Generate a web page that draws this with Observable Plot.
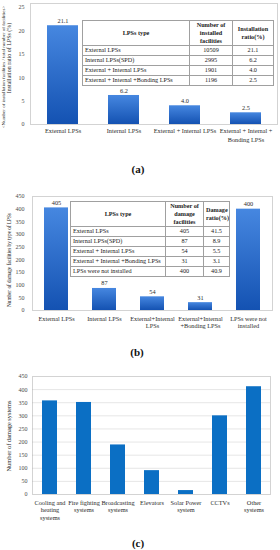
<!DOCTYPE html>
<html><head><meta charset="utf-8">
<script src="https://cdn.jsdelivr.net/npm/d3@7"></script>
<script src="https://cdn.jsdelivr.net/npm/@observablehq/plot@0.6"></script>
<style>
body{margin:0;background:#fff}
#root{position:relative;width:280px;height:550px;overflow:hidden;background:#fff;font-family:"Liberation Serif","DejaVu Serif",serif}
.pl{position:absolute;left:0}
.ytitle{position:absolute;white-space:nowrap;transform:translate(-50%,-50%) rotate(-90deg);color:#262626;line-height:1}
.cap{position:absolute;font-weight:bold;font-size:11px;transform:translate(-50%,-50%);color:#111;line-height:1}
table.t{position:absolute;border-collapse:collapse;table-layout:fixed;font-size:6.2px;color:#1a1a1a;background:#fff;border:1px solid #7a7a7a}
table.t td{border:1px solid #a0a0a0;padding:0 2px;overflow:hidden;white-space:nowrap;line-height:1;text-align:center;box-sizing:border-box}
table.t td.l{text-align:left}
table.t tr.h td{font-weight:bold;line-height:8px;white-space:pre}
</style>
</head><body>
<div id="root"></div>
<script>
// ---------- data ----------
// (a)
const lpsTypesA = ["External LPSs", "Internal LPSs", "External + Internal LPSs", "External + Internal +\nBonding LPSs"];
const ratioA = [21.1, 6.2, 4.0, 2.5];
const yTicksA = [0, 5, 10, 15, 20, 25];
const tableHeadA = ["LPSs type", "Number of\ninstalled\nfacilities", "Installation\nratio(%)"];
const tableTypesA = ["External LPSs", "Internal LPSs(SPD)", "External + Internal LPSs", "External + Internal +Bonding LPSs"];
const installedA = [10509, 2995, 1901, 1196];
// (b)
const lpsTypesB = ["External LPSs", "Internal LPSs", "External+Internal\nLPSs", "External+Internal\n+Bonding LPSs", "LPSs were not\ninstalled"];
const damageB = [405, 87, 54, 31, 400];
const yTicksB = [0, 50, 100, 150, 200, 250, 300, 350, 400, 450];
const tableHeadB = ["LPSs type", "Number of\ndamage\nfacilities", "Damage\nratio(%)"];
const tableTypesB = ["External LPSs", "Internal LPSs(SPD)", "External + Internal LPSs", "External + Internal +Bonding LPSs", "LPSs were not installed"];
const damageRatioB = [41.5, 8.9, 5.5, 3.1, 40.9];
// (c)
const systemsC = ["Cooling and\nheating\nsystems", "Fire fighting\nsystems", "Broadcasting\nsystems", "Elevators", "Solar Power\nsystem", "CCTVs", "Other\nsystems"];
const damageC = [357, 351, 189, 91, 15, 300, 411];
const yTicksC = [0, 50, 100, 150, 200, 250, 300, 350, 400, 450];

// ---------- helpers ----------
const SERIF = '"Liberation Serif","DejaVu Serif",serif';
const root = document.getElementById("root");
function place(el, top) {
  const d = document.createElement("div");
  d.className = "pl"; d.style.top = top + "px";
  d.appendChild(el); root.appendChild(d);
}
function ytitle(text, cx, cy, size) {
  const d = document.createElement("div");
  d.className = "ytitle"; d.textContent = text;
  d.style.left = cx + "px"; d.style.top = cy + "px"; d.style.fontSize = size + "px";
  root.appendChild(d);
}
function caption(text, cx, cy) {
  const d = document.createElement("div");
  d.className = "cap"; d.textContent = text;
  d.style.left = cx + "px"; d.style.top = cy + "px";
  root.appendChild(d);
}
function gradientize(svg, id) {
  const ns = "http://www.w3.org/2000/svg";
  const defs = document.createElementNS(ns, "defs");
  const g = document.createElementNS(ns, "linearGradient");
  g.setAttribute("id", id); g.setAttribute("x1", "0"); g.setAttribute("y1", "0"); g.setAttribute("x2", "0"); g.setAttribute("y2", "1");
  [["0", "#4687e0"], ["1", "#1452b2"]].forEach(([o, c]) => {
    const s = document.createElementNS(ns, "stop");
    s.setAttribute("offset", o); s.setAttribute("stop-color", c); g.appendChild(s);
  });
  defs.appendChild(g); svg.insertBefore(defs, svg.firstChild);
  svg.querySelectorAll('g[aria-label="bar"]').forEach(b => {
    b.setAttribute("fill", `url(#${id})`);
    b.querySelectorAll("rect").forEach(r => r.setAttribute("fill", `url(#${id})`));
  });
}
function table(head, rows, left, top, colW, headH, rowH) {
  const t = document.createElement("table");
  t.className = "t";
  t.style.left = left + "px"; t.style.top = top + "px";
  t.style.width = colW.reduce((a, b) => a + b, 0) + "px";
  const cg = document.createElement("colgroup");
  colW.forEach(w => { const c = document.createElement("col"); c.style.width = w + "px"; cg.appendChild(c); });
  t.appendChild(cg);
  const hr = document.createElement("tr"); hr.className = "h"; hr.style.height = headH + "px";
  head.forEach(h => { const td = document.createElement("td"); td.textContent = h; hr.appendChild(td); });
  t.appendChild(hr);
  rows.forEach(r => {
    const tr = document.createElement("tr"); tr.style.height = rowH + "px";
    r.forEach((v, i) => { const td = document.createElement("td"); td.textContent = v; if (i === 0) td.className = "l"; tr.appendChild(td); });
    t.appendChild(tr);
  });
  root.appendChild(t);
}
const baseStyle = {fontFamily: SERIF, background: "none", overflow: "visible"};
const TXT = "#2b2b2b", TICK = "#4a4a4a";

// ---------- (a) ----------
const dataA = lpsTypesA.map((t, i) => ({type: t, value: ratioA[i]}));
const plotA = Plot.plot({
  width: 280, height: 142,
  marginLeft: 30, marginRight: 3, marginTop: 3, marginBottom: 18,
  style: baseStyle,
  x: {domain: lpsTypesA, paddingInner: 0.5, paddingOuter: 0.25, axis: null},
  y: {domain: [0, 25.85], label: null},
  marks: [
    Plot.frame({stroke: "#a6a6a6", strokeDasharray: "1,1"}),
    Plot.barY(dataA, {x: "type", y: "value", fill: "#2a6cc8"}),
    Plot.text(dataA, {x: "type", y: "value", text: d => d.value.toFixed(1), dy: -5, fontSize: 6.3, fill: TXT}),
    Plot.axisY(yTicksA, {tickSize: 0, tickPadding: 6, fontSize: 6, color: TICK, label: null}),
    Plot.text(lpsTypesA, {x: d => d, frameAnchor: "bottom", lineAnchor: "top", dy: 2.2, fontSize: 6.3, lineHeight: 1.4, fill: TXT})
  ]
});
gradientize(plotA, "gradA");
place(plotA, 0);
ytitle("<Number of installation facilities / total number of facilities>", 3, 67, 5);
ytitle("Installation ratio of LPSs (%)", 8.5, 58, 6);
table(tableHeadA, tableTypesA.map((t, i) => [t, String(installedA[i]), ratioA[i].toFixed(1)]), 82, 20, [107, 43, 41], 25, 10);
caption("(a)", 138, 169);

// ---------- (b) ----------
const dataB = lpsTypesB.map((t, i) => ({type: t, value: damageB[i]}));
const plotB = Plot.plot({
  width: 280, height: 145,
  marginLeft: 32, marginRight: 8, marginTop: 11, marginBottom: 20,
  style: baseStyle,
  x: {domain: lpsTypesB, paddingInner: 0.5, paddingOuter: 0.25, axis: null},
  y: {domain: [0, 450], label: null},
  marks: [
    Plot.frame({stroke: "#a6a6a6", strokeDasharray: "1,1"}),
    Plot.barY(dataB, {x: "type", y: "value", fill: "#2a6cc8"}),
    Plot.text(dataB, {x: "type", y: "value", text: d => String(d.value), dy: -5, fontSize: 6.3, fill: TXT}),
    Plot.axisY(yTicksB, {tickSize: 0, tickPadding: 8, fontSize: 6, color: TICK, label: null}),
    Plot.text(lpsTypesB, {x: d => d, frameAnchor: "bottom", lineAnchor: "top", dy: 6, fontSize: 6.3, lineHeight: 1.1, fill: TXT})
  ]
});
gradientize(plotB, "gradB");
place(plotB, 185);
ytitle("Number of damage facilities by type of LPSs", 10, 260, 5.2);
table(tableHeadB, tableTypesB.map((t, i) => [t, String(damageB[i]), damageRatioB[i].toFixed(1)]), 70, 201, [95, 38, 26], 25, 10);
caption("(b)", 137, 352);

// ---------- (c) ----------
const dataC = systemsC.map((t, i) => ({sys: t, value: damageC[i]}));
const plotC = Plot.plot({
  width: 280, height: 160,
  marginLeft: 32, marginRight: 10, marginTop: 11, marginBottom: 31,
  style: baseStyle,
  x: {domain: systemsC, paddingInner: 0.56, paddingOuter: 0.28, axis: null},
  y: {domain: [0, 450], label: null},
  marks: [
    Plot.gridY(yTicksC.filter(v => v > 0 && v < 450), {stroke: "#e6e6e6", strokeOpacity: 1}),
    Plot.frame({stroke: "#a6a6a6", strokeDasharray: "1,1"}),
    Plot.barY(dataC, {x: "sys", y: "value", fill: "#0b6fc4"}),
    Plot.axisY(yTicksC, {tickSize: 0, tickPadding: 5, fontSize: 6, color: TICK, label: null}),
    Plot.text(systemsC, {x: d => d, frameAnchor: "bottom", lineAnchor: "top", dy: 5.4, fontSize: 6.3, lineHeight: 1.15, fill: TXT})
  ]
});
place(plotC, 365);
ytitle("Number of damage systems", 9, 436, 6.4);
caption("(c)", 138, 543);
</script>
</body></html>
